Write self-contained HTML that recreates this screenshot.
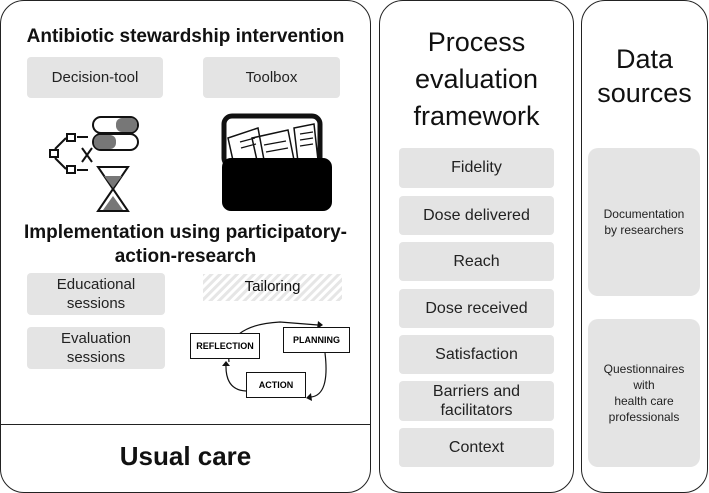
<!DOCTYPE html><html><head><style>
body{margin:0;width:709px;height:493px;background:#fff;font-family:"Liberation Sans",sans-serif;position:relative;overflow:hidden}
.p{position:absolute;border:1.5px solid #222;border-radius:24px;box-sizing:border-box}
.b{position:absolute;background:#e4e4e4;border-radius:4px;display:flex;align-items:center;justify-content:center;text-align:center;color:#222}
.t{position:absolute;text-align:center;color:#111}
.c{position:absolute;border:1.3px solid #111;background:#fff;font-size:9px;font-weight:bold;display:flex;align-items:center;justify-content:center;box-sizing:border-box}
</style></head><body>
<div class="p" style="left:0;top:0;width:371px;height:493px"></div>
<div style="position:absolute;left:0;top:424px;width:371px;border-top:1.5px solid #222"></div>
<div class="p" style="left:379px;top:0;width:195px;height:493px"></div>
<div class="p" style="left:581px;top:0;width:127px;height:493px"></div>
<div class="t" style="left:0;top:26px;width:371px;font-size:19px;font-weight:bold">Antibiotic stewardship intervention</div>
<div class="b" style="left:27px;top:57px;width:136px;height:41px;font-size:15px">Decision-tool</div>
<div class="b" style="left:203px;top:57px;width:137px;height:41px;font-size:15px">Toolbox</div>
<svg style="position:absolute;left:0;top:0" width="371" height="425">
<g fill="none" stroke="#111" stroke-width="2">
<rect x="67" y="134" width="8" height="7"/><rect x="50" y="150" width="8" height="7"/><rect x="67" y="166" width="8" height="7"/>
<path d="M55 149 L66 138 M55 158 L66 169 M77 137 H88 M77 170 H88 M82 148 L92 162 M92 148 L82 162"/>
<rect x="93" y="117" width="45" height="16" rx="8"/><rect x="93" y="134" width="45" height="16" rx="8"/>
<path d="M98 167 H128 L113 189 L128 211 H98 L113 189Z"/>
</g>
<rect x="116" y="118" width="21" height="14" rx="6" fill="#777"/><rect x="94" y="135" width="22" height="14" rx="6" fill="#777"/>
<path d="M104 176 H122 L113 188Z M113 196 L123 210 H103Z" fill="#777"/>
<rect x="224" y="116" width="96" height="50" rx="8" fill="none" stroke="#111" stroke-width="5"/>
<path d="M228 138 L258 128 L264 160 L234 165 Z M252 138 L288 130 L294 160 L258 165Z M294 128 L314 124 L318 160 L298 162Z" fill="#fff" stroke="#111" stroke-width="1.5"/>
<path d="M240 142 L255 138 M241 148 L256 144 M264 145 L286 141 M266 152 L288 148 M300 134 L313 132 M300 140 L313 138 M300 146 L313 144" stroke="#111" stroke-width="1.2"/>
<rect x="222" y="158" width="110" height="53" rx="9" fill="#000"/>
<g stroke="#111" stroke-width="1.2" fill="none"><path d="M229 362 Q225 325 280 322 L318 325"/><path d="M325 353 Q330 395 311 397"/><path d="M246 391 Q225 390 226 364"/></g>
<path d="M318 321 L323 325 L317 329Z M311 393 L306 398 L312 401Z M222 366 L226 361 L230 366Z" fill="#111"/>
<defs><pattern id="h" width="6" height="6" patternUnits="userSpaceOnUse" patternTransform="rotate(-45)"><rect width="6" height="3" fill="#e6e6e6"/></pattern></defs>
<rect x="203" y="274" width="139" height="27" fill="url(#h)"/>
</svg>
<div class="t" style="left:0;top:221px;width:371px;font-size:19px;font-weight:bold;line-height:24px">Implementation using participatory-<br>action-research</div>
<div class="b" style="left:27px;top:273px;width:138px;height:42px;font-size:15px;line-height:19px">Educational<br>sessions</div>
<div class="b" style="left:27px;top:327px;width:138px;height:42px;font-size:15px;line-height:19px">Evaluation<br>sessions</div>
<div class="t" style="left:203px;top:278px;width:139px;font-size:15px">Tailoring</div>
<div class="c" style="left:190px;top:333px;width:70px;height:26px">REFLECTION</div>
<div class="c" style="left:283px;top:327px;width:67px;height:26px">PLANNING</div>
<div class="c" style="left:246px;top:372px;width:60px;height:26px">ACTION</div>
<div class="t" style="left:0;top:441px;width:371px;font-size:26px;font-weight:bold">Usual care</div>
<div class="t" style="left:379px;top:24px;width:195px;font-size:27px;line-height:37px">Process<br>evaluation<br>framework</div>
<div class="t" style="left:581px;top:42px;width:127px;font-size:27px;line-height:34px">Data<br>sources</div>
<div class="b" style="left:399px;top:148px;width:155px;height:40px;font-size:16px">Fidelity</div>
<div class="b" style="left:399px;top:196px;width:155px;height:39px;font-size:16px">Dose delivered</div>
<div class="b" style="left:399px;top:242px;width:155px;height:39px;font-size:16px">Reach</div>
<div class="b" style="left:399px;top:289px;width:155px;height:39px;font-size:16px">Dose received</div>
<div class="b" style="left:399px;top:335px;width:155px;height:39px;font-size:16px">Satisfaction</div>
<div class="b" style="left:399px;top:381px;width:155px;height:40px;font-size:16px;line-height:19px">Barriers and<br>facilitators</div>
<div class="b" style="left:399px;top:428px;width:155px;height:39px;font-size:16px">Context</div>
<div class="b" style="left:588px;top:148px;width:112px;height:148px;font-size:12px;line-height:16px;border-radius:10px">Documentation<br>by researchers</div>
<div class="b" style="left:588px;top:319px;width:112px;height:148px;font-size:12px;line-height:16px;border-radius:10px">Questionnaires<br>with<br>health care<br>professionals</div>
</body></html>
